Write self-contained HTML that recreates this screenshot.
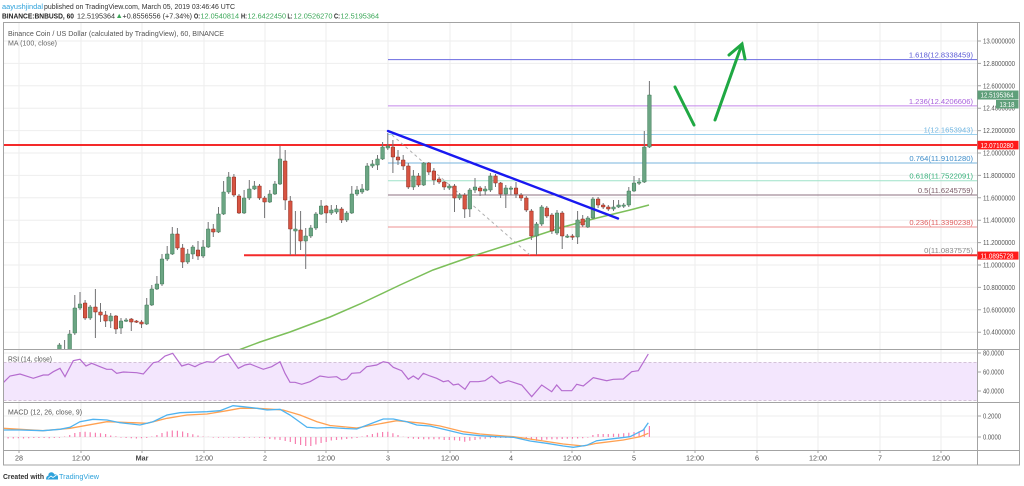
<!DOCTYPE html>
<html><head><meta charset="utf-8"><style>
html,body{margin:0;padding:0;background:#fff;}
svg{display:block;}
text{font-family:"Liberation Sans",Arial,sans-serif;}
</style></head><body>
<svg width="1024" height="486" viewBox="0 0 1024 486" xmlns="http://www.w3.org/2000/svg">
<rect x="0" y="0" width="1024" height="486" fill="#fff"/>
<defs>
<clipPath id="cm"><rect x="3.5" y="22.5" width="973.5" height="327"/></clipPath>
<clipPath id="cr"><rect x="3.5" y="350" width="973.5" height="52.5"/></clipPath>
<clipPath id="cd"><rect x="3.5" y="403" width="973.5" height="47.5"/></clipPath>
</defs>

<!-- header -->
<text x="2" y="9" font-size="7.6" fill="#2ea2db" textLength="41" lengthAdjust="spacingAndGlyphs">aayushjindal</text>
<text x="44" y="9" font-size="7.6" fill="#333" textLength="191" lengthAdjust="spacingAndGlyphs">published on TradingView.com, March 05, 2019 03:46:46 UTC</text>
<text x="2" y="18.3" font-size="7.6" font-weight="bold" fill="#222" textLength="72" lengthAdjust="spacingAndGlyphs">BINANCE:BNBUSD, 60</text>
<text x="77" y="18.3" font-size="7.6" fill="#333" textLength="38" lengthAdjust="spacingAndGlyphs">12.5195364</text>
<path d="M117,18 L119.2,13.8 L121.4,18 Z" fill="#3aa757"/>
<text x="122.5" y="18.3" font-size="7.6" fill="#333" textLength="69.5" lengthAdjust="spacingAndGlyphs">+0.8556556 (+7.34%)</text>
<text x="194" y="18.3" font-size="7.6" font-weight="bold" fill="#222" textLength="6" lengthAdjust="spacingAndGlyphs">O:</text>
<text x="200.5" y="18.3" font-size="7.6" fill="#3aa757" textLength="38.5" lengthAdjust="spacingAndGlyphs">12.0540814</text>
<text x="241" y="18.3" font-size="7.6" font-weight="bold" fill="#222" textLength="6" lengthAdjust="spacingAndGlyphs">H:</text>
<text x="247.5" y="18.3" font-size="7.6" fill="#3aa757" textLength="38.5" lengthAdjust="spacingAndGlyphs">12.6422450</text>
<text x="287.5" y="18.3" font-size="7.6" font-weight="bold" fill="#222" textLength="5" lengthAdjust="spacingAndGlyphs">L:</text>
<text x="293.5" y="18.3" font-size="7.6" fill="#3aa757" textLength="39" lengthAdjust="spacingAndGlyphs">12.0526270</text>
<text x="334" y="18.3" font-size="7.6" font-weight="bold" fill="#222" textLength="6" lengthAdjust="spacingAndGlyphs">C:</text>
<text x="340.5" y="18.3" font-size="7.6" fill="#3aa757" textLength="38.5" lengthAdjust="spacingAndGlyphs">12.5195364</text>

<!-- grid -->
<g stroke="#eeeeee" stroke-width="1">
<path d="M3,41H977M3,63.4H977M3,85.8H977M3,108.2H977M3,130.6H977M3,153H977M3,175.4H977M3,197.8H977M3,220.2H977M3,242.6H977M3,265H977M3,287.4H977M3,309.8H977M3,332.2H977"/>
<path d="M19,22V450M81,22V450M142,22V450M204,22V450M265,22V450M326,22V450M388,22V450M450,22V450M511,22V450M572,22V450M634,22V450M695,22V450M757,22V450M818,22V450M880,22V450M941,22V450"/>
<path d="M3,353H977M3,372H977M3,391H977M3,416H977M3,437H977"/>
</g>

<!-- RSI band -->
<rect x="3.5" y="362.5" width="973.5" height="38" fill="#f3e6fd"/>
<path d="M3.5,362.5H977M3.5,400.5H977" stroke="#c8b2cc" stroke-width="0.8" stroke-dasharray="3,2" fill="none"/>

<!-- legend -->
<text x="8" y="36" font-size="7.6" fill="#555" textLength="216" lengthAdjust="spacingAndGlyphs">Binance Coin / US Dollar (calculated by TradingView), 60, BINANCE</text>
<text x="8" y="45.5" font-size="7.6" fill="#666" textLength="49" lengthAdjust="spacingAndGlyphs">MA (100, close)</text>

<g clip-path="url(#cm)">
<!-- fib lines -->
<g stroke-width="1" fill="none">
<path d="M388,59.6H977" stroke="#6a6ae0"/>
<path d="M388,105.9H977" stroke="#c488ea"/>
<path d="M388,134.5H977" stroke="#9ad0ee"/>
<path d="M388,163H977" stroke="#7ab4de"/>
<path d="M388,180.8H977" stroke="#9ee2c8"/>
<path d="M388,195H977" stroke="#8c7080"/>
<path d="M388,227H977" stroke="#ee9090"/>
</g>
<!-- red horizontals -->
<path d="M3,145H977" stroke="#f42a2a" stroke-width="2"/>
<path d="M244,255.3H977" stroke="#f42a2a" stroke-width="2"/>
<!-- dashed diagonal -->
<path d="M392,135L530,255" stroke="#b0b0b0" stroke-width="1" stroke-dasharray="3,3"/>
<!-- MA 100 -->
<path d="M236,351L260,342L290,332L330,317L360,304L400,285L433,270L473,256L517,242L563,227L597,218L630,210L649,205" stroke="#7cbf5a" stroke-width="1.5" fill="none"/>

<!-- wicks -->
<path stroke="#737375" stroke-width="1" fill="none" d="M59.4,343V352M64.6,340V352M69.7,330V352M74.8,295V335M80,292V310M85.1,300V320M90.2,305V320M95.4,289V338M100.5,303V322M105.6,311V327M110.7,313V328M115.9,315V334M121,318V334M126.1,318V322M131.3,318V331M136.4,320V323M141.5,320V328M146.7,298V325M151.8,285V306M156.9,276V290M162,254V286M167.2,246V261M172.3,227V255M177.4,228V250M182.6,244V268M187.7,249V264M192.8,245V259M198,241V260M203.1,240V258M208.2,222V248M213.3,224V237M218.5,207V233M223.6,181V215M228.7,172V194M233.9,174V197M239,194V214M244.1,190V214M249.3,180V200M254.4,181V190M259.5,184V200M264.6,196V218M269.8,190V203M274.9,181V195M280,146V185M285.2,150V210M290.3,196V255M295.4,211V255M300.6,211V250M305.7,228V269M310.8,225V238M315.9,212V230M321.1,200V215M326.2,205V223M331.3,205V215M336.5,205V214M341.6,207V223M346.7,211V222M351.8,186V214M357,186V196M362.1,184V194M367.2,163V191M372.4,160V168M377.5,155V170M382.6,142V160M387.8,133V150M392.9,140V173M398,150V165M403.2,155V170M408.3,163V189M413.4,170V190M418.5,173V187M423.7,162V186M428.8,162V175M433.9,168V185M439.1,177V184M444.2,181V190M449.3,184V190M454.5,184V212M459.6,193V200M464.7,193V218M469.8,188V217M475,178V193M480.1,186V196M485.2,186V195M490.4,173V192M495.5,174V187M500.6,182V198M505.8,185V208M510.9,186V195M516,182V198M521.1,193V201M526.3,196V212M531.4,209V240M536.5,222V255M541.7,205V226M546.8,206V218M551.9,213V234M557,210V235M562.2,211V249M567.3,234V238M572.4,234V240M577.6,211V244M582.7,215V227M587.8,216V228M592.9,197V219M598.1,197V208M603.2,203V209M608.3,205V211M613.5,200V211M618.6,200V208M623.7,203V208M628.8,187V207M634,176V192M639.1,178V185M644.3,131V183M649.4,81V148"/>
<!-- green bodies -->
<path fill="#6ba583" stroke="#3f7a57" stroke-width="0.5" d="M57.6,345h3.6V352h-3.6zM67.9,334h3.6V352h-3.6zM73,308h3.6V333h-3.6zM78.2,304h3.6V308h-3.6zM88.4,307h3.6V318h-3.6zM108.9,316h3.6V321h-3.6zM119.2,321h3.6V328h-3.6zM124.3,320h3.6V321.2h-3.6zM144.9,305h3.6V324h-3.6zM150,289h3.6V305h-3.6zM155.1,284h3.6V289h-3.6zM160.2,259h3.6V284h-3.6zM165.4,254h3.6V259h-3.6zM170.5,234h3.6V254h-3.6zM185.9,254h3.6V262h-3.6zM191,247h3.6V254h-3.6zM201.3,247h3.6V256h-3.6zM206.4,229h3.6V247h-3.6zM216.7,214h3.6V232h-3.6zM221.8,192h3.6V214h-3.6zM226.9,177h3.6V192h-3.6zM242.3,198h3.6V213h-3.6zM247.5,189h3.6V198h-3.6zM252.6,186h3.6V189h-3.6zM268,194h3.6V202h-3.6zM273.1,184h3.6V194h-3.6zM278.2,159h3.6V184h-3.6zM293.6,229h3.6V231h-3.6zM303.9,236h3.6V241h-3.6zM309,228h3.6V236h-3.6zM314.1,214h3.6V228h-3.6zM319.3,206h3.6V214h-3.6zM329.5,210h3.6V213h-3.6zM334.7,209h3.6V212h-3.6zM344.9,213h3.6V220h-3.6zM350,194h3.6V213h-3.6zM355.2,190h3.6V194h-3.6zM360.3,189h3.6V192h-3.6zM365.4,166h3.6V190h-3.6zM370.6,164h3.6V166h-3.6zM375.7,159h3.6V165h-3.6zM380.8,147h3.6V159h-3.6zM386,146h3.6V148h-3.6zM411.6,176h3.6V187h-3.6zM421.9,163h3.6V185h-3.6zM447.5,186h3.6V188h-3.6zM457.8,195h3.6V198h-3.6zM468,190h3.6V209h-3.6zM473.2,187h3.6V190h-3.6zM483.4,189h3.6V191h-3.6zM488.6,176h3.6V190h-3.6zM504,188h3.6V194h-3.6zM509.1,188h3.6V189.2h-3.6zM534.7,224h3.6V236h-3.6zM539.9,207h3.6V224h-3.6zM555.2,213h3.6V233h-3.6zM565.5,236h3.6V237.2h-3.6zM575.8,220h3.6V237h-3.6zM586,218h3.6V227h-3.6zM591.1,199h3.6V218h-3.6zM611.7,207h3.6V209h-3.6zM616.8,205h3.6V207h-3.6zM621.9,205h3.6V206.2h-3.6zM627,191h3.6V205h-3.6zM632.2,183h3.6V191h-3.6zM637.3,182h3.6V183.2h-3.6zM642.5,147h3.6V182h-3.6zM647.6,95h3.6V147h-3.6z"/>
<!-- red bodies -->
<path fill="#d75442" stroke="#8a2a1e" stroke-width="0.5" d="M83.3,303h3.6V318h-3.6zM93.6,307h3.6V312h-3.6zM98.7,312h3.6V315h-3.6zM103.8,315h3.6V321h-3.6zM114.1,316h3.6V329h-3.6zM129.5,319h3.6V322h-3.6zM134.6,321h3.6V322.2h-3.6zM139.7,322h3.6V324h-3.6zM175.6,234h3.6V248h-3.6zM180.8,248h3.6V262h-3.6zM196.2,250h3.6V256h-3.6zM211.5,229h3.6V232h-3.6zM232.1,177h3.6V195h-3.6zM237.2,196h3.6V213h-3.6zM257.7,186h3.6V198h-3.6zM262.8,198h3.6V202h-3.6zM283.4,161h3.6V200h-3.6zM288.5,201h3.6V229h-3.6zM298.8,230h3.6V241h-3.6zM324.4,206h3.6V213h-3.6zM339.8,209h3.6V220h-3.6zM391.1,147h3.6V157h-3.6zM396.2,157h3.6V160h-3.6zM401.4,160h3.6V166h-3.6zM406.5,166h3.6V187h-3.6zM416.7,176h3.6V185h-3.6zM427,163h3.6V172h-3.6zM432.1,171h3.6V180h-3.6zM437.3,179h3.6V182h-3.6zM442.4,182h3.6V187h-3.6zM452.7,186h3.6V198h-3.6zM462.9,195h3.6V209h-3.6zM478.3,188h3.6V191h-3.6zM493.7,176h3.6V183h-3.6zM498.8,183h3.6V194h-3.6zM514.2,188h3.6V194h-3.6zM519.3,195h3.6V198h-3.6zM524.5,198h3.6V210h-3.6zM529.6,211h3.6V236h-3.6zM545,208h3.6V216h-3.6zM550.1,215h3.6V231h-3.6zM560.4,213h3.6V236h-3.6zM570.6,236h3.6V237.2h-3.6zM580.9,219h3.6V225h-3.6zM596.3,199h3.6V205h-3.6zM601.4,205h3.6V207h-3.6zM606.5,207h3.6V209h-3.6z"/>

<!-- blue trendline -->
<path d="M388,131L618,218.5" stroke="#1818f0" stroke-width="2.4" stroke-linecap="round"/>
<!-- green arrows -->
<g stroke="#1fa843" stroke-width="3" stroke-linecap="round" fill="none">
<path d="M675,87L694,125"/>
<path d="M715,120L742,44"/>
<path d="M729,55L742,44L745,59"/>
</g>
</g>

<!-- fib labels -->
<g font-size="7.6" text-anchor="end">
<text x="973" y="57.5" fill="#5c5cd6">1.618(12.8338459)</text>
<text x="973" y="103.8" fill="#a860dc">1.236(12.4206606)</text>
<text x="973" y="132.4" fill="#6fb6e2">1(12.1653943)</text>
<text x="973" y="160.9" fill="#3d8cc9">0.764(11.9101280)</text>
<text x="973" y="178.7" fill="#35b07a">0.618(11.7522091)</text>
<text x="973" y="192.9" fill="#7a5a66">0.5(11.6245759)</text>
<text x="973" y="224.9" fill="#e05c5c">0.236(11.3390238)</text>
<text x="973" y="253" fill="#888">0(11.0837575)</text>
</g>

<!-- RSI -->
<text x="8" y="361.5" font-size="7.6" fill="#555" textLength="44" lengthAdjust="spacingAndGlyphs">RSI (14, close)</text>
<g clip-path="url(#cr)">
<polyline fill="none" stroke="#b56ccf" stroke-width="1.2" points="3.3,382.7 10,376 20,374 33.3,378.3 43.3,375 48.3,375 53.3,371.7 60,368.3 65,376.7 73.3,360.7 80,359.3 86,366 91.7,363.3 100,366.7 106.7,369.3 111.7,369.3 116.7,373.3 123.3,372 136.7,372.7 143.3,374 153.3,362.7 158.3,361.7 165,356 172.7,353.3 181.7,366 188.3,364 195,366.7 200,364 206.7,361.7 213.3,362.3 220,356.7 228.3,354 238.3,368.3 245,365 250,364 255,366 263.3,369.3 271.7,366.7 280,361.7 285,373.3 290,382.3 295,382.3 301.7,384.3 310,381.7 320,376 328.3,377.3 336.7,376.7 341.7,380 346.7,379 351.7,373.3 360,372.7 366.7,366.7 376.7,365 383.3,361.7 388.3,362.7 393.3,367.3 401.7,370.7 408.3,379.3 413.3,376 418.3,379.3 423.3,373.3 430,376 436.7,378.3 443.3,381.7 448.3,380.7 453.3,385 458.3,384 465,389.3 470,381.7 478.3,381.7 485,380.7 491.7,376 500,383.3 508.3,380.7 521.7,385 531.7,396.7 541.7,385 551.7,391.7 556.7,385 561.7,390.7 571.7,390.7 576.7,384.3 583.3,386 593.3,377.7 606.7,380.7 613.3,379.3 623.3,379 631.7,371.7 638.3,370.7 648.3,354"/>
</g>

<!-- MACD -->
<text x="8" y="414.5" font-size="7.6" fill="#555" textLength="74" lengthAdjust="spacingAndGlyphs">MACD (12, 26, close, 9)</text>
<g clip-path="url(#cd)">
<path stroke="#f77fb0" stroke-width="1.2" fill="none" d="M8.1,437V438.5M13.3,437V438.5M18.4,437V438.3M23.5,437V438.5M28.7,437V438.3M33.8,437V438M38.9,437V438M44.1,437V438M49.2,437V438.2M54.3,437V438M59.4,437V437.8M64.6,437V436.5M69.7,437V435M74.8,437V433M80,437V432M85.1,437V431.7M90.2,437V432.2M95.4,437V432.7M100.5,437V433.3M105.6,437V434M110.7,437V435.5M115.9,437V436.3M121,437V437.6M126.1,437V438M131.3,437V438.3M136.4,437V438.5M141.5,437V438.3M146.7,437V438M151.8,437V436.5M156.9,437V435M162,437V433M167.2,437V431.5M172.3,437V430.5M177.4,437V430.8M182.6,437V431.5M187.7,437V433M192.8,437V434.3M198,437V435.5M203.1,437V436.5M208.2,437V436.8M213.3,437V437.6M218.5,437V437.8M223.6,437V437.6M228.7,437V437.6M233.9,437V437.8M239,437V438M244.1,437V438M249.3,437V437.8M254.4,437V437.6M259.5,437V437.8M264.6,437V438.3M269.8,437V439M274.9,437V439.5M280,437V440M285.2,437V441M290.3,437V442M295.4,437V444M300.6,437V445M305.7,437V446M310.8,437V446M315.9,437V444.5M321.1,437V443M326.2,437V442M331.3,437V440.5M336.5,437V440M341.6,437V439.5M346.7,437V439M351.8,437V438.5M357,437V438M362.1,437V436.5M367.2,437V435M372.4,437V434M377.5,437V432.7M382.6,437V432M387.8,437V431.7M392.9,437V433.3M398,437V435M403.2,437V436.7M408.3,437V438.3M413.4,437V438.7M418.5,437V439M423.7,437V439.3M428.8,437V439.3M433.9,437V439.3M439.1,437V439.3M444.2,437V440M449.3,437V440M454.5,437V440.3M459.6,437V440.7M464.7,437V441.7M469.8,437V440.7M475,437V440M480.1,437V439.3M485.2,437V438.7M490.4,437V438.3M495.5,437V438M500.6,437V438M505.8,437V438M510.9,437V438M516,437V438M521.1,437V438.2M526.3,437V439M531.4,437V440M536.5,437V440.7M541.7,437V440M546.8,437V439.5M551.9,437V439.3M557,437V439.3M562.2,437V439M567.3,437V438.7M572.4,437V438.7M577.6,437V438.5M582.7,437V438.3M587.8,437V437.6M592.9,437V435M598.1,437V434M603.2,437V434M608.3,437V434M613.5,437V433.7M618.6,437V433.7M623.7,437V433.3M628.8,437V432.7M634,437V432M639.1,437V431.3M644.3,437V429.3M649.4,437V426"/>
<polyline fill="none" stroke="#ffa152" stroke-width="1.3" points="3,428.3 43,430.7 70,428.3 107,421.7 133,422.7 147,423.3 167,418.3 187,415 207,414 227,410.7 240,408.3 257,408.3 273,409.3 283,410 300,415 317,421.7 330,425.5 356.7,428 396.7,420.7 423.3,423.3 440,426 463.3,431.7 480,434 513.3,436.7 536.7,440 563.3,444 583.3,446 596.7,443.3 623.3,440 640,436.7 648.3,433.3"/>
<polyline fill="none" stroke="#4fb3f0" stroke-width="1.3" points="3,430 20,430 43,430.7 60,429.3 70,427.3 80,421.7 93,419.3 107,420 120,422.7 140,425 153,421.7 167,415 180,412.7 207,411.7 220,410.7 233,405.7 243,406.7 257,408.3 267,410 280,409.3 290,415 307,427.3 317,428 330,427.5 345,428.5 356.7,429 370,424 383.3,419 393.3,419 406.7,421.7 416.7,425 430,426 446.7,430 463.3,434 480,435.7 496.7,436.7 513.3,437.3 530,441 546.7,443.3 563.3,446 573.3,447.3 586.7,445.3 596.7,440.7 613.3,438.7 630,436.7 643.3,430 648.3,422.7"/>
</g>

<!-- frame -->
<g stroke="#a3a3a3" stroke-width="1" fill="none">
<rect x="3.5" y="22.5" width="1016" height="442.5"/>
<path d="M977.5,22.5V465"/>
<path d="M3.5,349.5H1019.5M3.5,402.5H1019.5M3.5,450.5H1019.5"/>
</g>
<!-- axis ticks -->
<path stroke="#a3a3a3" stroke-width="1" d="M977.5,41H981M977.5,63.4H981M977.5,85.8H981M977.5,108.2H981M977.5,130.6H981M977.5,153H981M977.5,175.4H981M977.5,197.8H981M977.5,220.2H981M977.5,242.6H981M977.5,265H981M977.5,287.4H981M977.5,309.8H981M977.5,332.2H981M977.5,353H981M977.5,372H981M977.5,391H981M977.5,416H981M977.5,437H981M19,450.5V453M81,450.5V453M142,450.5V453M204,450.5V453M265,450.5V453M326,450.5V453M388,450.5V453M450,450.5V453M511,450.5V453M572,450.5V453M634,450.5V453M695,450.5V453M757,450.5V453M818,450.5V453M880,450.5V453M941,450.5V453"/>

<!-- price axis labels -->
<g font-size="7.2" fill="#555">
<text x="983" y="43.5" textLength="32" lengthAdjust="spacingAndGlyphs">13.0000000</text>
<text x="983" y="65.9" textLength="32" lengthAdjust="spacingAndGlyphs">12.8000000</text>
<text x="983" y="88.3" textLength="32" lengthAdjust="spacingAndGlyphs">12.6000000</text>
<text x="983" y="110.7" textLength="32" lengthAdjust="spacingAndGlyphs">12.4000000</text>
<text x="983" y="133.1" textLength="32" lengthAdjust="spacingAndGlyphs">12.2000000</text>
<text x="983" y="155.5" textLength="32" lengthAdjust="spacingAndGlyphs">12.0000000</text>
<text x="983" y="177.9" textLength="32" lengthAdjust="spacingAndGlyphs">11.8000000</text>
<text x="983" y="200.3" textLength="32" lengthAdjust="spacingAndGlyphs">11.6000000</text>
<text x="983" y="222.7" textLength="32" lengthAdjust="spacingAndGlyphs">11.4000000</text>
<text x="983" y="245.1" textLength="32" lengthAdjust="spacingAndGlyphs">11.2000000</text>
<text x="983" y="267.5" textLength="32" lengthAdjust="spacingAndGlyphs">11.0000000</text>
<text x="983" y="289.9" textLength="32" lengthAdjust="spacingAndGlyphs">10.8000000</text>
<text x="983" y="312.3" textLength="32" lengthAdjust="spacingAndGlyphs">10.6000000</text>
<text x="983" y="334.7" textLength="32" lengthAdjust="spacingAndGlyphs">10.4000000</text>
<text x="983" y="355.5" textLength="21" lengthAdjust="spacingAndGlyphs">80.0000</text>
<text x="983" y="374.5" textLength="21" lengthAdjust="spacingAndGlyphs">60.0000</text>
<text x="983" y="393.5" textLength="21" lengthAdjust="spacingAndGlyphs">40.0000</text>
<text x="983" y="418.5" textLength="18" lengthAdjust="spacingAndGlyphs">0.2000</text>
<text x="983" y="439.5" textLength="18" lengthAdjust="spacingAndGlyphs">0.0000</text>
</g>

<!-- price boxes -->
<rect x="977.5" y="90.5" width="41" height="9" fill="#5f9f7a"/>
<text x="980.5" y="97.7" font-size="7.2" fill="#fff" textLength="33" lengthAdjust="spacingAndGlyphs">12.5195364</text>
<rect x="996" y="100" width="22.5" height="8.5" fill="#5f9f7a"/>
<text x="999.5" y="107" font-size="7.2" fill="#fff" textLength="15" lengthAdjust="spacingAndGlyphs">13:18</text>
<rect x="977.5" y="140.8" width="41" height="8.6" fill="#ff1a1a"/>
<text x="980.5" y="147.8" font-size="7.2" fill="#fff" textLength="33" lengthAdjust="spacingAndGlyphs">12.0710280</text>
<rect x="977.5" y="251.6" width="41" height="8" fill="#ff1a1a"/>
<text x="980.5" y="258.3" font-size="7.2" fill="#fff" textLength="33" lengthAdjust="spacingAndGlyphs">11.0895728</text>

<!-- time labels -->
<g font-size="7.2" fill="#555" text-anchor="middle">
<text x="19" y="460.5">28</text>
<text x="81" y="460.5">12:00</text>
<text x="142" y="460.5" font-weight="bold" fill="#444">Mar</text>
<text x="204" y="460.5">12:00</text>
<text x="265" y="460.5">2</text>
<text x="326" y="460.5">12:00</text>
<text x="388" y="460.5">3</text>
<text x="450" y="460.5">12:00</text>
<text x="511" y="460.5">4</text>
<text x="572" y="460.5">12:00</text>
<text x="634" y="460.5">5</text>
<text x="695" y="460.5">12:00</text>
<text x="757" y="460.5">6</text>
<text x="818" y="460.5">12:00</text>
<text x="880" y="460.5">7</text>
<text x="941" y="460.5">12:00</text>
</g>

<!-- footer -->
<text x="3" y="479" font-size="7.6" font-weight="bold" fill="#333" textLength="41" lengthAdjust="spacingAndGlyphs">Created with</text>
<path d="M46,479.5 L58,479.5 L58,476.5 Q57,474 54.5,474.5 Q53,471.5 50,472.5 Q48,473.5 48.5,475.5 Q46,476 46,479.5 Z" fill="#2ea2db"/>
<path d="M48,478.5 L51,476 L53,477.5 L56.5,475" stroke="#fff" stroke-width="0.8" fill="none"/>
<text x="59" y="479" font-size="7.6" fill="#2ea2db" textLength="40" lengthAdjust="spacingAndGlyphs">TradingView</text>
</svg>
</body></html>
